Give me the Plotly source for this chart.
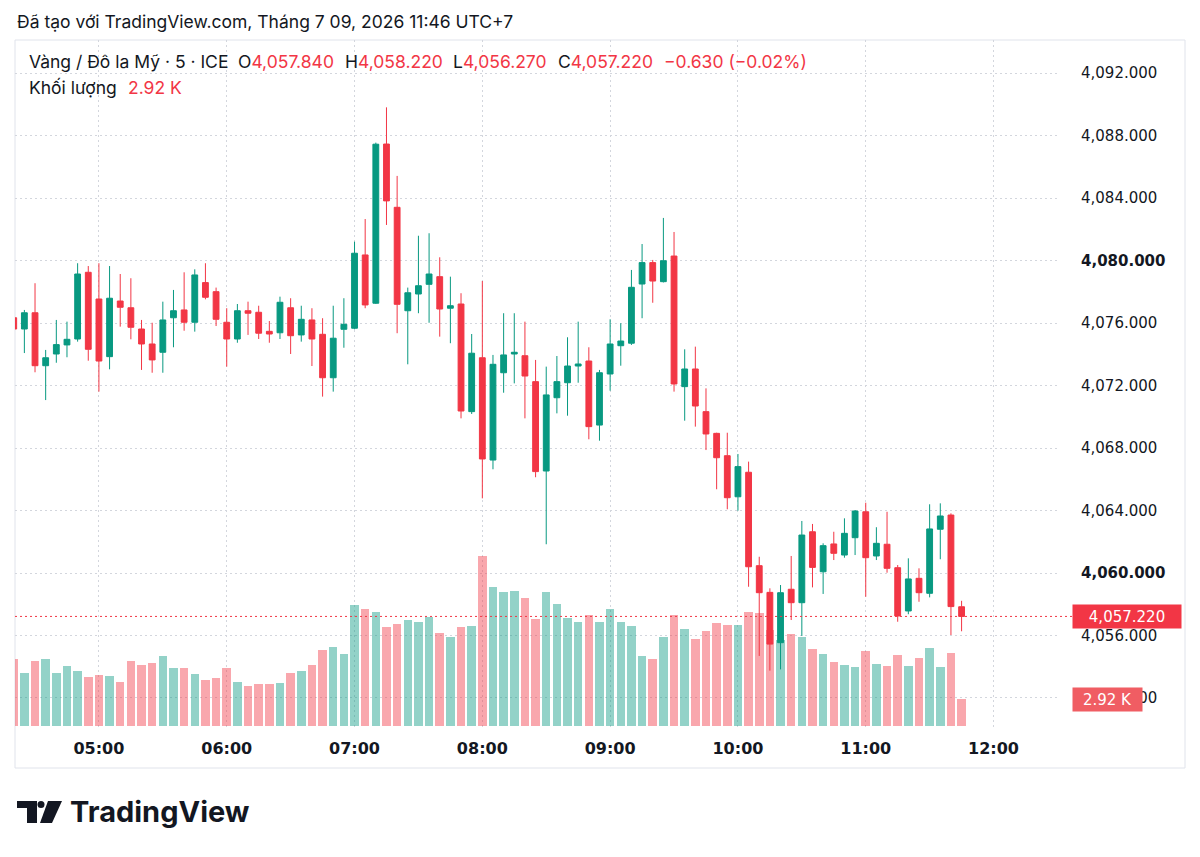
import plotly.graph_objects as go
import pandas as pd

# ---------------- data ----------------
start_time = "2026-07-09 04:20"
n_candles = 90
times = pd.date_range(start_time, periods=n_candles, freq="5min")

opens = [4076.34, 4075.62, 4076.66, 4073.27, 4074.02, 4074.60, 4074.98, 4079.25, 4077.54, 4073.85,
         4077.41, 4076.98, 4075.62, 4074.66, 4074.13, 4076.34, 4076.84, 4076.05, 4078.59, 4078.01,
         4076.05, 4074.98, 4076.79, 4076.69, 4075.47, 4075.38, 4076.98, 4075.24, 4076.20, 4075.28,
         4072.50, 4075.60, 4075.67, 4080.36, 4077.27, 4087.46, 4083.41, 4076.79, 4077.86, 4078.48,
         4078.97, 4076.95, 4077.22, 4070.33, 4073.78, 4067.23, 4072.82, 4074.02, 4073.91, 4072.25,
         4066.53, 4071.22, 4072.18, 4073.25, 4073.57, 4069.47, 4072.74, 4074.55, 4074.71, 4078.50,
         4079.87, 4078.65, 4080.29, 4071.93, 4073.06, 4070.33, 4068.94, 4067.51, 4064.88, 4066.45,
         4060.47, 4058.76, 4055.54, 4058.96, 4058.10, 4062.64, 4060.08, 4061.86, 4061.15, 4062.26,
         4063.92, 4061.09, 4061.84, 4060.34, 4057.57, 4059.66, 4058.70, 4062.80, 4063.71, 4057.84]
highs = [4076.84, 4076.84, 4078.55, 4074.28, 4076.20, 4076.09, 4079.83, 4079.65, 4079.83, 4079.65,
         4079.14, 4078.87, 4076.20, 4076.02, 4077.37, 4078.12, 4079.25, 4079.44, 4079.83, 4078.27,
         4076.95, 4077.22, 4077.37, 4077.11, 4076.13, 4077.69, 4077.59, 4077.11, 4076.95, 4076.31,
         4077.11, 4077.59, 4081.21, 4082.66, 4087.55, 4089.81, 4085.42, 4078.27, 4081.59, 4081.75,
         4080.21, 4078.97, 4077.91, 4075.30, 4078.69, 4073.96, 4076.63, 4076.63, 4076.09, 4073.64,
         4073.21, 4073.89, 4075.09, 4076.09, 4074.45, 4073.00, 4076.24, 4075.99, 4079.40, 4081.06,
         4080.04, 4082.73, 4081.83, 4074.32, 4074.49, 4071.82, 4068.98, 4068.98, 4067.62, 4067.13,
         4061.04, 4059.02, 4059.23, 4061.09, 4063.33, 4063.14, 4061.90, 4062.64, 4063.50, 4064.03,
         4064.50, 4062.93, 4063.92, 4060.51, 4060.94, 4060.30, 4064.40, 4064.46, 4063.82, 4058.22]
lows = [4073.85, 4074.08, 4072.85, 4071.07, 4073.46, 4073.81, 4074.81, 4073.59, 4071.61, 4073.04,
        4075.77, 4074.96, 4073.00, 4072.82, 4072.82, 4074.45, 4075.51, 4075.45, 4077.52, 4075.81,
        4073.21, 4074.74, 4075.24, 4074.98, 4074.74, 4074.98, 4074.02, 4074.81, 4073.25, 4071.29,
        4071.61, 4074.42, 4075.60, 4076.95, 4077.22, 4082.28, 4075.35, 4073.36, 4076.63, 4076.02,
        4075.13, 4074.71, 4069.90, 4070.18, 4064.78, 4066.64, 4071.54, 4072.14, 4069.90, 4066.13,
        4061.84, 4070.22, 4070.07, 4072.18, 4068.56, 4068.47, 4071.67, 4073.27, 4074.60, 4076.31,
        4077.30, 4078.60, 4071.61, 4069.75, 4069.37, 4067.87, 4065.36, 4064.08, 4063.99, 4059.12,
        4054.69, 4053.75, 4053.83, 4056.99, 4055.97, 4059.08, 4058.66, 4060.83, 4060.98, 4061.15,
        4058.48, 4060.83, 4060.02, 4056.88, 4057.36, 4058.16, 4058.44, 4060.88, 4056.03, 4056.27]
closes = [4075.62, 4076.66, 4073.27, 4073.78, 4074.62, 4074.96, 4079.14, 4074.32, 4073.57, 4077.59,
          4077.01, 4075.73, 4074.66, 4073.64, 4076.20, 4076.79, 4076.05, 4079.08, 4077.65, 4076.24,
          4074.98, 4076.79, 4076.63, 4075.35, 4075.30, 4077.33, 4075.19, 4076.24, 4074.98, 4072.50,
          4075.03, 4075.92, 4080.47, 4077.16, 4087.45, 4083.82, 4077.20, 4077.94, 4078.39, 4079.14,
          4076.90, 4077.11, 4070.37, 4074.07, 4067.30, 4073.36, 4073.96, 4074.13, 4072.61, 4066.49,
          4071.40, 4072.25, 4073.25, 4073.38, 4069.37, 4072.82, 4074.66, 4074.85, 4078.29, 4079.87,
          4078.69, 4079.99, 4072.10, 4073.06, 4070.69, 4068.90, 4067.38, 4064.82, 4066.81, 4060.40,
          4058.74, 4055.45, 4058.74, 4058.10, 4062.43, 4060.36, 4061.75, 4061.26, 4062.54, 4063.97,
          4060.98, 4061.90, 4060.30, 4057.25, 4059.62, 4058.74, 4062.82, 4063.65, 4057.85, 4057.22]
volumes_k = [7.21, 5.70, 7.03, 7.21, 5.76, 6.49, 5.95, 5.30, 5.51, 5.37,
             4.79, 7.03, 6.56, 6.81, 7.53, 6.24, 6.24, 5.59, 4.97, 5.22,
             6.24, 4.79, 4.32, 4.51, 4.51, 4.65, 5.70, 5.91, 6.56, 8.25,
             8.54, 7.75, 13.08, 12.62, 12.32, 10.70, 10.99, 11.49, 11.27, 11.82,
             10.05, 9.65, 10.70, 10.84, 18.41, 15.06, 14.45, 14.59, 13.87, 11.60,
             14.45, 13.16, 11.67, 11.27, 12.03, 11.21, 12.68, 11.21, 10.81, 7.57,
             7.21, 9.59, 11.97, 10.45, 9.37, 10.24, 11.10, 10.92, 10.92, 12.36,
             12.25, 10.38, 9.30, 9.95, 9.65, 8.32, 7.82, 6.89, 6.59, 6.38,
             8.14, 6.70, 6.45, 7.64, 6.45, 7.35, 8.43, 6.38, 7.89, 2.92]

price_ticks = [4052, 4056, 4060, 4064, 4068, 4072, 4076, 4080, 4084, 4088, 4092]
bold_price_ticks = [4060, 4080]
hour_ticks = ["05:00", "06:00", "07:00", "08:00", "09:00", "10:00", "11:00", "12:00"]
chart_date = "2026-07-09"

last_price = 4057.22
last_volume_k = 2.92

title_text = "Đã tạo với TradingView.com, Tháng 7 09, 2026 11:46 UTC+7"
symbol_text = "Vàng / Đô la Mỹ · 5 · ICE"
ohlc_labels = [("O", "4,057.840"), ("H", "4,058.220"), ("L", "4,056.270"), ("C", "4,057.220")]
change_text = "−0.630 (−0.02%)"
volume_title = "Khối lượng"
volume_value_text = "2.92 K"

# ---------------- style ----------------
GREEN = "#089981"
RED = "#F23645"
GREEN_VOL = "rgba(8,153,129,0.44)"
RED_VOL = "rgba(242,54,69,0.44)"
TEXT = "#131722"
GRID = "#d3d6dd"
BORDER = "#e0e3eb"

W, H = 1200, 857
L, R, T, B = 15, 140, 40, 127
PW, PH = W - L - R, H - T - B


def px(x):
    return (x - L) / PW


def py(y):
    return (H - B - y) / PH


vol_colors = [GREEN_VOL if c >= o else RED_VOL for o, c in zip(opens, closes)]

fig = go.Figure()
fig.add_trace(go.Bar(
    x=times, y=volumes_k, marker=dict(color=vol_colors, line=dict(width=0)),
    width=5 * 60 * 1000 * 0.8, yaxis="y", hoverinfo="skip", showlegend=False,
))
fig.add_trace(go.Candlestick(
    x=times, open=opens, high=highs, low=lows, close=closes, yaxis="y2",
    increasing=dict(line=dict(color=GREEN, width=1), fillcolor=GREEN),
    decreasing=dict(line=dict(color=RED, width=1), fillcolor=RED),
    whiskerwidth=0, showlegend=False,
))

t0 = pd.Timestamp(chart_date + " 05:00")
x_start = t0 - pd.Timedelta(minutes=39.4)
x_end = t0 + pd.Timedelta(minutes=451.2)
hour_vals = [pd.Timestamp(chart_date + " " + h) for h in hour_ticks]

p_top, p_bot = 4094.12, 4049.95
v_bot, v_top = -0.43, 74.16

price_text = [("<b>%s</b>" if v in bold_price_ticks else "%s") % f"{v:,.3f}" for v in price_ticks]

fig.update_layout(
    width=W, height=H,
    margin=dict(l=L, r=R, t=T, b=B),
    paper_bgcolor="white", plot_bgcolor="white",
    boxgap=0.22,
    bargap=0,
    showlegend=False,
    font=dict(family="DejaVu Sans", color=TEXT),
    xaxis=dict(
        type="date", range=[x_start, x_end], rangeslider=dict(visible=False),
        tickvals=hour_vals, ticktext=hour_ticks,
        tickfont=dict(family="DejaVu Sans", size=16, color=TEXT, weight="bold"),
        showgrid=True, gridcolor=GRID, griddash="2px,3px", gridwidth=1,
        zeroline=False, showline=False, ticks="", ticklabelstandoff=7,
    ),
    yaxis=dict(
        range=[v_bot, v_top], visible=False, showgrid=False, zeroline=False,
        fixedrange=True,
    ),
    yaxis2=dict(
        overlaying="y", side="right", range=[p_bot, p_top],
        tickvals=price_ticks, ticktext=price_text,
        tickfont=dict(family="DejaVu Sans", size=15, color=TEXT),
        showgrid=True, gridcolor=GRID, griddash="2px,3px", gridwidth=1,
        zeroline=False, showline=False, ticks="", ticklabelstandoff=20,
    ),
)

shapes = [
    dict(type="rect", xref="paper", yref="paper", x0=px(15), x1=px(1185), y0=py(768), y1=py(40),
         line=dict(color=BORDER, width=1), layer="below"),
    dict(type="line", xref="paper", yref="y2", x0=0, x1=px(1072), y0=last_price, y1=last_price,
         line=dict(color=RED, width=1, dash="2px,3px")),
    dict(type="path", xref="paper", yref="paper",
         path=f"M {px(17)} {py(801)} L {px(37)} {py(801)} L {px(37)} {py(823)} L {px(27)} {py(823)} "
              f"L {px(27)} {py(808)} L {px(17)} {py(808)} Z",
         fillcolor=TEXT, line=dict(width=0)),
    dict(type="circle", xref="paper", yref="paper", x0=px(37.5), x1=px(44.5), y0=py(808), y1=py(801),
         fillcolor=TEXT, line=dict(width=0)),
    dict(type="path", xref="paper", yref="paper",
         path=f"M {px(48)} {py(801)} L {px(62)} {py(801)} L {px(52)} {py(823)} L {px(40)} {py(823)} Z",
         fillcolor=TEXT, line=dict(width=0)),
]
fig.update_layout(shapes=shapes)

ann = []
HF = 17.5


def text_at(x, y, text, size=HF, color=TEXT, family="Inter", weight="normal"):
    ann.append(dict(xref="paper", yref="paper", x=px(x), y=py(y), text=text, showarrow=False,
                    xanchor="left", yanchor="middle",
                    font=dict(size=size, color=color, family=family, weight=weight)))


text_at(15, 22, title_text)
text_at(27, 62, symbol_text)
ohlc_x = [236, 343, 451, 556]
for (lab, val), xx in zip(ohlc_labels, ohlc_x):
    text_at(xx, 62, f"{lab}<span style='color:{RED}'>{val}</span>")
text_at(662, 62, change_text, color=RED)
text_at(27, 87, volume_title)
text_at(126, 87, volume_value_text, color=RED)
text_at(68, 812, "TradingView", size=29, family="Inter", weight="bold")

ann.append(dict(xref="paper", yref="y2", x=px(1072), y=last_price,
                text=f"{last_price:,.3f}", showarrow=False, xanchor="left", yanchor="middle",
                bgcolor=RED, borderpad=4, width=100, height=15, align="center",
                font=dict(size=15, color="white", family="DejaVu Sans")))
ann.append(dict(xref="paper", yref="y", x=px(1072), y=last_volume_k,
                text=f"{last_volume_k:.2f} K", showarrow=False, xanchor="left", yanchor="middle",
                bgcolor="#F05D63", borderpad=4, width=61, height=15, align="center",
                font=dict(size=15, color="white", family="DejaVu Sans")))

fig.update_layout(annotations=ann)

fig.write_html("out.html")
